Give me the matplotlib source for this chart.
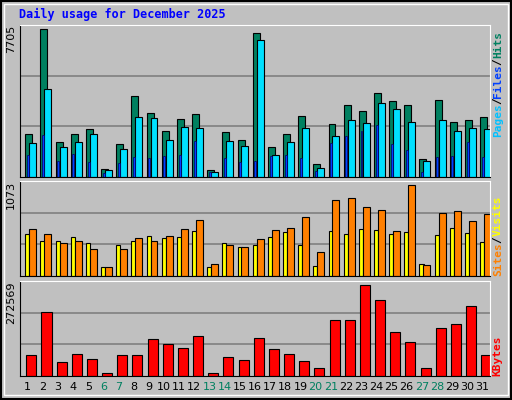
import matplotlib
matplotlib.use('Agg')
import matplotlib.pyplot as plt
from matplotlib.patches import Rectangle

# ── Data ──────────────────────────────────────────────────────
days = list(range(1, 32))
weekends = [6, 7, 13, 14, 20, 21, 27, 28]
hits = [2266, 7705, 1848, 2266, 2527, 436, 1743, 4201, 3364, 2423, 3050, 3312, 383, 2370, 1952, 7495,
        1586, 2266, 3207, 697, 2789, 3730, 3469, 4358, 3939, 3782, 959, 3991, 2893, 2998, 3155]
files = [1795, 4567, 1586, 1848, 2266, 383, 1482, 3155, 3103, 1952, 2632, 2580, 279, 1900, 1638, 7129,
         1168, 1848, 2580, 488, 2161, 2998, 2841, 3835, 3573, 2893, 854, 2998, 2423, 2580, 2527]
pages = [1168, 2214, 854, 1220, 802, 227, 750, 1063, 1011, 1116, 1168, 1900, 279, 1011, 802, 854,
         1116, 1168, 1011, 331, 1795, 2161, 2423, 2737, 1743, 1429, 279, 1063, 1116, 1848, 1063]
sites = [490, 408, 408, 455, 385, 105, 362, 408, 467, 443, 455, 525, 105, 385, 338, 362,
         455, 513, 362, 117, 525, 490, 548, 537, 490, 513, 140, 478, 560, 502, 397]
visits = [548, 490, 385, 408, 315, 105, 315, 443, 408, 467, 548, 653, 140, 362, 338, 432,
          537, 560, 688, 280, 898, 921, 816, 770, 525, 1073, 128, 735, 758, 642, 723]
kbytes = [63667, 191996, 42776, 66652, 51729, 9948, 63667, 63667, 111418, 96496, 84558, 120371, 9948,
          57698, 48745, 114402, 81574, 66652, 45761, 24870, 168121, 168121, 272569, 227809, 132308,
          102464, 24870, 144246, 156184, 209903, 63667]

BG = '#c0c0c0'
fig = plt.figure(figsize=(5.12, 4.0), dpi=100, facecolor=BG)
# outer frame
fig.patches.append(Rectangle((0.002, 0.003), 0.996, 0.994, transform=fig.transFigure,
                             fill=False, edgecolor='black', lw=1.5))
fig.patches.append(Rectangle((0.008, 0.012), 0.984, 0.978, transform=fig.transFigure,
                             fill=False, edgecolor='#ffffff', lw=1))

fig.text(0.037, 0.963, 'Daily usage for December 2025', color='#0000ff',
         family='DejaVu Sans Mono', fontweight='bold', fontsize=8.5, va='center')

L, W = 0.039, 0.918
ax1 = fig.add_axes([L, 0.5575, W, 0.38])
ax2 = fig.add_axes([L, 0.31, W, 0.2375])
ax3 = fig.add_axes([L, 0.06, W, 0.2375])

tops = [7705 * 152 / 147.7, 1073 * 287 / 276, 272569 * 285 / 274]
for ax, top in zip([ax1, ax2, ax3], tops):
    ax.set_facecolor(BG)
    ax.set_xlim(0.5, 31.5)
    ax.set_ylim(0, top)
    ax.axhline(top / 3, color='#808080', lw=1.2, zorder=0)
    ax.axhline(top * 2 / 3, color='#808080', lw=1.2, zorder=0)
    ax.set_yticks([])
    ax.set_xticks([])
    for s in ['left', 'bottom']:
        ax.spines[s].set_color('black')
    for s in ['top', 'right']:
        ax.spines[s].set_color('white')

kw = dict(align='edge', edgecolor='black', linewidth=0.8)
x = [d - 0.15 for d in days]
ax1.bar(x, hits, width=0.46, color='#008060', **kw)
ax1.bar([d + 0.11 for d in days], files, width=0.46, color='#00e0ff', **kw)
ax1.bar([d - 0.04 for d in days], pages, width=0.13, color='#0040ff', edgecolor='#000060', linewidth=0.5, align='edge')

ax2.bar(x, sites, width=0.27, color='#ffff00', **kw)
ax2.bar([d + 0.11 for d in days], visits, width=0.46, color='#ff8000', **kw)

ax3.bar([d - 0.08 for d in days], kbytes, width=0.66, color='#ff0000', **kw)

ax3.set_xticks(days)
ax3.set_xticklabels([str(d) for d in days], fontsize=8)
ax3.tick_params(axis='x', length=0, pad=4)
for lab, d in zip(ax3.get_xticklabels(), days):
    lab.set_color('#008060' if d in weekends else 'black')

# max values on left, rotated
for ax, v in zip([ax1, ax2, ax3], [7705, 1073, 272569]):
    ax.text(-0.008, 1.0, str(v), transform=ax.transAxes, rotation=90,
            ha='right', va='top', fontsize=8)

# right-side legend labels, stacked upward (rotated text)
CHAR_PX = 6.6
def side_label(ax, parts, y0, ax_px):
    y = y0
    for txt, col in parts:
        ax.text(1.006, y, txt, transform=ax.transAxes, rotation=90, color=col,
                family='DejaVu Sans Mono', fontweight='bold', fontsize=8,
                ha='left', va='bottom')
        y += len(txt) * CHAR_PX / ax_px

side_label(ax1, [('Pages', '#00c0ff'), ('/', '#000000'), ('Files', '#0040ff'),
                 ('/', '#000000'), ('Hits', '#008060')], 0.26, 152)
side_label(ax2, [('Sites', '#ff8000'), ('/', '#000000'), ('Visits', '#ffff00')], 0.0, 95)
side_label(ax3, [('KBytes', '#ff0000')], 0.0, 95)

fig.savefig('out.png', dpi=100, facecolor=BG)
